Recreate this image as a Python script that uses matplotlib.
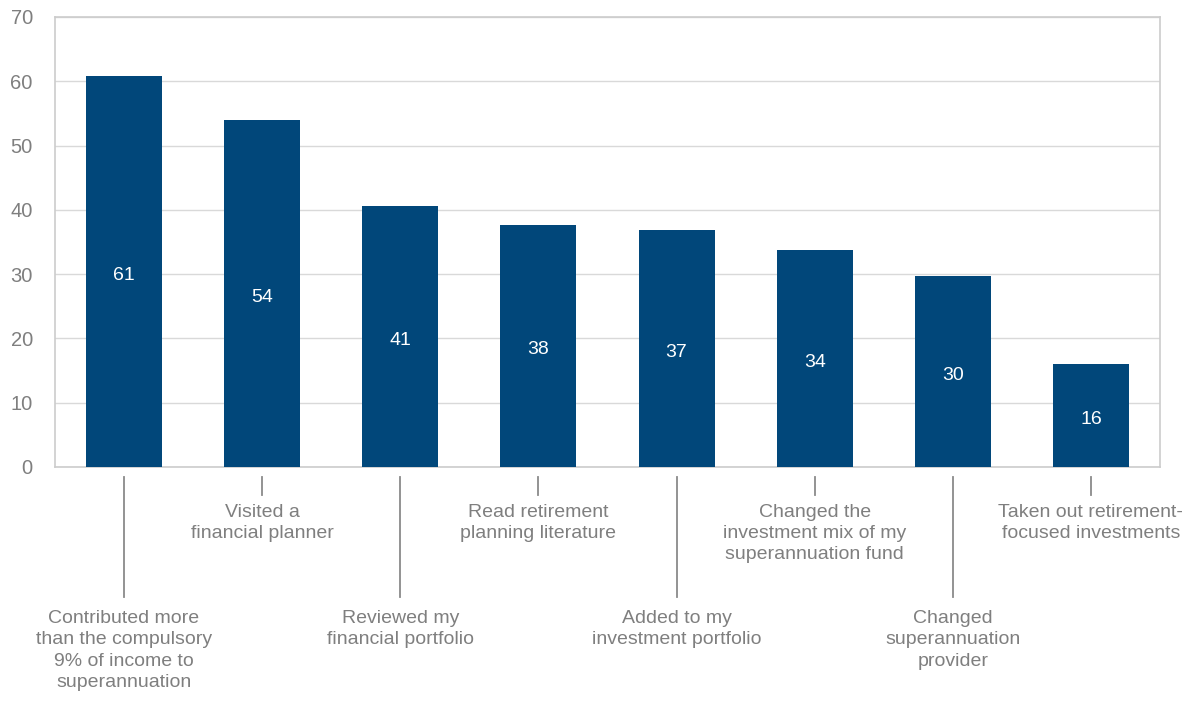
import matplotlib
matplotlib.use("Agg")
import matplotlib.pyplot as plt
import matplotlib.transforms as mtransforms

categories = [
    "Contributed more\nthan the compulsory\n9% of income to\nsuperannuation",
    "Visited a\nfinancial planner",
    "Reviewed my\nfinancial portfolio",
    "Read retirement\nplanning literature",
    "Added to my\ninvestment portfolio",
    "Changed the\ninvestment mix of my\nsuperannuation fund",
    "Changed\nsuperannuation\nprovider",
    "Taken out retirement-\nfocused investments",
]
values = [60.8, 54.0, 40.6, 37.7, 36.9, 33.7, 29.7, 16.1]
value_labels = ["61", "54", "41", "38", "37", "34", "30", "16"]
yticks = [0, 10, 20, 30, 40, 50, 60, 70]

plt.rcParams['font.family'] = ['Liberation Sans', 'DejaVu Sans']

fig = plt.figure(figsize=(11.94, 7.05), dpi=100)
ax = fig.add_axes([55/1194, 1-467/705, 1105/1194, 450/705])

bar_color = "#01477a"
text_grey = "#7f7f7f"
x = list(range(len(values)))
ax.bar(x, values, width=0.55, color=bar_color, zorder=3)
ax.set_xlim(-0.5, len(values) - 0.5)
ax.set_ylim(0, 70)
ax.set_yticks(yticks)
ax.set_yticklabels([str(t) for t in yticks], fontsize=14.5, color=text_grey)
ax.tick_params(axis='y', length=0, pad=16)
ax.set_xticks([])
ax.grid(axis='y', color="#d9d9d9", linewidth=1, zorder=0)
for s in ax.spines.values():
    s.set_color("#cccccc")
    s.set_linewidth(1.2)

for xi, v, lab in zip(x, values, value_labels):
    ax.text(xi, v / 2 - 0.6, lab, ha='center', va='center', color='white', fontsize=14, zorder=4)

trans = mtransforms.blended_transform_factory(ax.transData, ax.transAxes)
for i, lab in enumerate(categories):
    if i % 2 == 0:
        y0, y1, yt = -0.022, -0.289, -0.318
    else:
        y0, y1, yt = -0.022, -0.062, -0.082
    ax.plot([i, i], [y0, y1], color="#8a8a8a", linewidth=1.3, transform=trans, clip_on=False)
    ax.text(i, yt, lab, ha='center', va='top', color=text_grey, fontsize=14,
            linespacing=1.33, transform=trans)

fig.savefig("out.png", dpi=100)
